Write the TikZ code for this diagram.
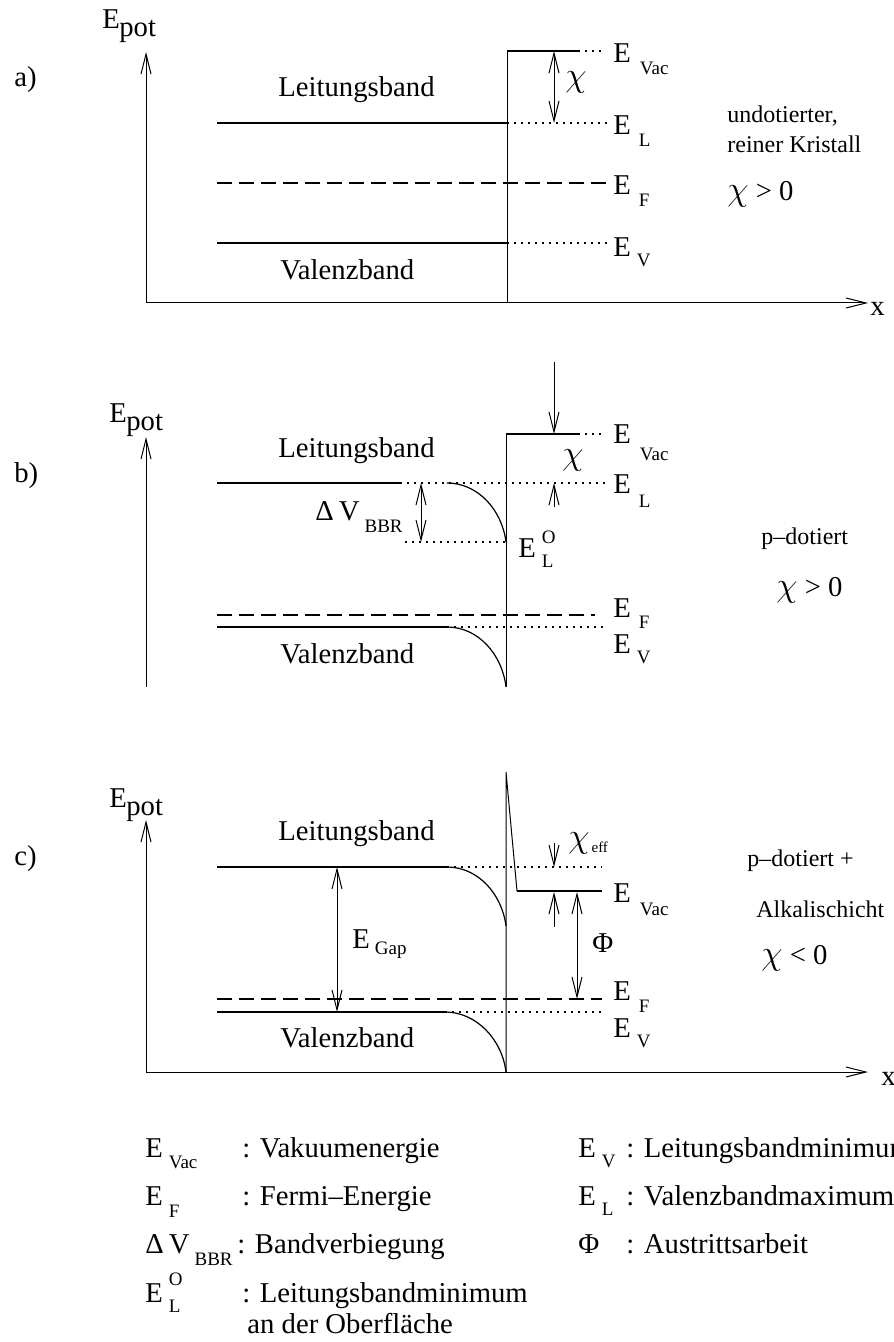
\documentclass[tikz,border=0pt]{standalone}
\usepackage{fontspec}
\setmainfont{Liberation Serif}
\usetikzlibrary{arrows.meta}
\newcommand{\mainf}{\fontsize{14.35pt}{17pt}\selectfont}
\newcommand{\smallf}{\fontsize{12pt}{14pt}\selectfont}
\newcommand{\subf}{\fontsize{9.5pt}{11pt}\selectfont}
\newcommand{\tinyf}{\fontsize{7.5pt}{9pt}\selectfont}
\newcommand{\Esub}[3]{E\kern#1\raisebox{-#2}{\subf #3}}
\newcommand{\Epot}{E\kern-0.3pt\raisebox{-4pt}{pot}}
\newcommand{\ELO}[2]{E\kern3pt\rlap{\raisebox{#1}{\subf O}}\raisebox{-#2}{\subf L}}
\newcommand{\chisym}{{\fontsize{16pt}{18pt}\selectfont\ensuremath{\chi}}}
\begin{document}
\begin{tikzpicture}[x=0.5pt,y=-0.5pt,
 txt/.style={inner sep=0pt, anchor=base west, font=\mainf},
 stxt/.style={inner sep=0pt, anchor=base west, font=\smallf},
 band/.style={line width=0.8pt},
 thinl/.style={line width=0.5pt},
 curvel/.style={line width=0.6pt},
 dotl/.style={line width=0.6pt, dash pattern=on 0.8pt off 2.7pt},
 dashl/.style={line width=0.7pt, dash pattern=on 7.5pt off 3.5pt},
 arr/.style={line width=0.5pt, -{Straight Barb[length=10pt,width=5pt]}},
 darr/.style={line width=0.5pt, {Straight Barb[length=10pt,width=5pt]}-{Straight Barb[length=10pt,width=5pt]}},
]
\useasboundingbox[fill=white] (0,0) rectangle (893,1342);

% ---------------- panel a ----------------
\coordinate (aO) at (146,303);
\coordinate (aYt) at (146,52);
\coordinate (aXt) at (868,303);
\draw[thinl,arr] (aO) -- (aYt);
\draw[thinl,arr] (aO) -- (aXt);
\coordinate (aSb) at (507,303);
\coordinate (aSt) at (507,51);
\draw[thinl] (aSb) -- (aSt);
\draw[band] (aSt) -- (578,51);
\draw[dotl] (578,51) -- (605,51);
\draw[band] (217,123) -- (507,123);
\draw[dotl] (507,123) -- (607,123);
\draw[dashl] (217,183) -- (607,183);
\draw[band] (217,243) -- (507,243);
\draw[dotl] (507,243) -- (607,243);
\coordinate (aC1) at (554,51);
\coordinate (aC2) at (554,123);
\draw[darr] (aC1) -- (aC2);

\node[txt] (aEpot) at (102,29) {\Epot};
\node[txt] (alab) at (14,87) {a)};
\node[txt] (aLB) at (278,97) {Leitungsband};
\node[txt] (aVB) at (280,280) {Valenzband};
\node[txt] (aEvac) at (613,63) {\Esub{4.5pt}{6pt}{Vac}};
\node[txt] (aEL) at (613,135) {\Esub{4pt}{6pt}{L}};
\node[txt] (aEF) at (613,195) {\Esub{4pt}{6pt}{F}};
\node[txt] (aEV) at (613,257) {\Esub{3pt}{5pt}{V}};
\node[txt] (achi) at (565,87) {\chisym};
\node[stxt] (aund) at (727,123) {undotierter,};
\node[stxt] (arein) at (727,153) {reiner Kristall};
\node[txt] (achig) at (727,201) {\chisym{} > 0};
\node[txt] (ax) at (870,315) {x};

% ---------------- panel b ----------------
\coordinate (bO) at (146,687);
\coordinate (bYt) at (146,437);
\draw[thinl,arr] (bO) -- (bYt);
\coordinate (bSb) at (506,687);
\coordinate (bSt) at (506,434);
\draw[thinl] (bSb) -- (bSt);
\draw[band] (bSt) -- (578,434);
\draw[dotl] (578,434) -- (605,434);
\draw[band] (217,483) -- (400,483);
\draw[dotl] (400,483) -- (607,483);
\draw[curvel] (447,483) .. controls (478,483) and (502,510) .. (506,542);
\draw[dotl] (405,542) -- (506,542);
\coordinate (bD1) at (421,483);
\coordinate (bD2) at (421,542);
\draw[darr] (bD1) -- (bD2);
\coordinate (bA1) at (554,362);
\coordinate (bA2) at (554,434);
\draw[arr] (bA1) -- (bA2);
\coordinate (bA3) at (554,507);
\coordinate (bA4) at (554,483);
\draw[arr] (bA3) -- (bA4);
\draw[dashl] (217,615) -- (595,615);
\draw[band] (217,627) -- (447,627);
\draw[dotl] (447,627) -- (604,627);
\draw[curvel] (447,627) .. controls (478,627) and (502,654) .. (506,687);

\node[txt] (bEpot) at (109,422) {\Epot};
\node[txt] (blab) at (14,482) {b)};
\node[txt] (bLB) at (278,457) {Leitungsband};
\node[txt] (bVB) at (280,663) {Valenzband};
\node[txt] (bEvac) at (613,443) {\Esub{4.5pt}{8.5pt}{Vac}};
\node[txt] (bEL) at (613,493) {\Esub{4pt}{7pt}{L}};
\node[txt] (bEF) at (613,617) {\Esub{4pt}{5.5pt}{F}};
\node[txt] (bEV) at (613,653) {\Esub{3pt}{5pt}{V}};
\node[txt] (bchi) at (562,464) {\chisym};
\node[txt] (bdV) at (315,520) {Δ\kern2.5pt V\kern2.5pt\raisebox{-6pt}{\subf BBR}};
\node[txt] (bELO) at (518,557) {\ELO{7pt}{5pt}};
\node[stxt] (bpd) at (761,544) {p–dotiert};
\node[txt] (bchig) at (776,596) {\chisym{} > 0};

% ---------------- panel c ----------------
\coordinate (cO) at (146,1072);
\coordinate (cYt) at (146,820);
\coordinate (cXt) at (868,1072);
\draw[thinl,arr] (cO) -- (cYt);
\draw[thinl,arr] (cO) -- (cXt);
\coordinate (cSb) at (506,1072);
\coordinate (cSt) at (506,772);
\coordinate (cSk) at (517,891);
\draw[thinl] (cSb) -- (cSt) -- (cSk);
\draw[band] (cSk) -- (602,891);
\draw[band] (217,867) -- (447,867);
\draw[dotl] (447,867) -- (602,867);
\draw[curvel] (447,867) .. controls (478,867) and (502,894) .. (506,926);
\draw[dashl] (217,999) -- (602,999);
\draw[band] (217,1012) -- (445,1012);
\draw[dotl] (445,1012) -- (602,1012);
\draw[curvel] (445,1012) .. controls (476,1012) and (502,1039) .. (506,1072);
\coordinate (cG1) at (337,867);
\coordinate (cG2) at (337,1012);
\draw[darr] (cG1) -- (cG2);
\coordinate (cA1) at (554,843);
\coordinate (cA2) at (554,867);
\draw[arr] (cA1) -- (cA2);
\coordinate (cA3) at (554,927);
\coordinate (cA4) at (554,892);
\draw[arr] (cA3) -- (cA4);
\coordinate (cP1) at (577,892);
\coordinate (cP2) at (577,999);
\draw[darr] (cP1) -- (cP2);

\node[txt] (cEpot) at (109,807) {\Epot};
\node[txt] (clab) at (14,865) {c)};
\node[txt] (cLB) at (278,840) {Leitungsband};
\node[txt] (cVB) at (280,1047) {Valenzband};
\node[txt] (cEvac) at (613,902) {\Esub{4.5pt}{6.5pt}{Vac}};
\node[txt] (cEF) at (613,1000) {\Esub{4pt}{6pt}{F}};
\node[txt] (cEV) at (613,1037) {\Esub{3pt}{5pt}{V}};
\node[txt] (cchi) at (568,847) {\chisym\kern1pt\raisebox{-2.5pt}{\tinyf eff}};
\node[txt] (cPhi) at (592,952) {Φ};
\node[txt] (cEgap) at (352,948) {\Esub{2.5pt}{3pt}{Gap}};
\node[stxt] (cpd) at (747,866) {p–dotiert +};
\node[stxt] (calk) at (756,917) {Alkalischicht};
\node[txt] (cchig) at (761,964) {\chisym{} < 0};
\node[txt] (cx) at (881,1085) {x};

% ---------------- legend ----------------
\node[txt] (l1s) at (145,1157) {\Esub{3pt}{5.5pt}{Vac}};
\node[txt] (l1t) at (242,1157) {: Vakuumenergie};
\node[txt] (l2s) at (145,1205) {\Esub{3pt}{6pt}{F}};
\node[txt] (l2t) at (242,1205) {: Fermi–Energie};
\node[txt] (l3s) at (145,1253) {Δ\kern2.5pt V\kern2.5pt\raisebox{-6pt}{\subf BBR}};
\node[txt] (l3t) at (237,1253) {: Bandverbiegung};
\node[txt] (l4s) at (145,1302) {\ELO{8.5pt}{5pt}};
\node[txt] (l4t) at (242,1302) {: Leitungsbandminimum};
\node[txt] (l4u) at (247,1333) {an der Oberfläche};
\node[txt] (r1s) at (578,1157) {\Esub{3pt}{5pt}{V}};
\node[txt] (r1t) at (626,1157) {: Leitungsbandminimum};
\node[txt] (r2s) at (578,1205) {\Esub{3pt}{5pt}{L}};
\node[txt] (r2t) at (626,1205) {: Valenzbandmaximum};
\node[txt] (r3s) at (578,1253) {Φ};
\node[txt] (r3t) at (626,1253) {: Austrittsarbeit};
\end{tikzpicture}
\end{document}
